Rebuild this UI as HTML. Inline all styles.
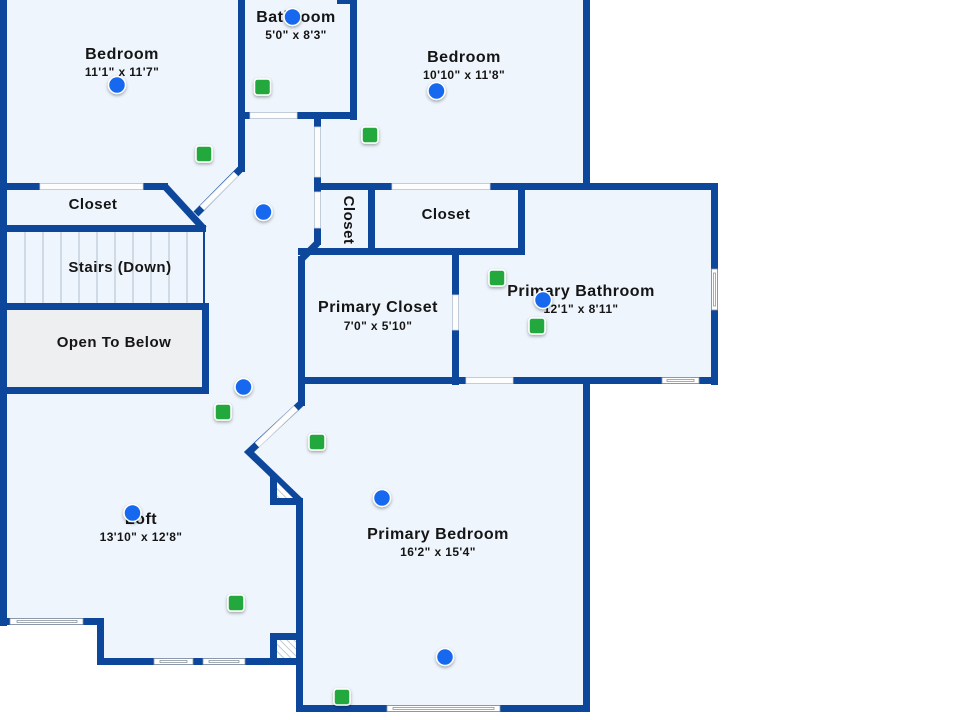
<!DOCTYPE html>
<html><head><meta charset="utf-8"><style>
html,body{margin:0;padding:0;background:#fff;}
svg{display:block;}
text{font-family:"Liberation Sans",sans-serif;font-weight:bold;fill:#151515;text-anchor:middle;}
.t{font-size:16px;letter-spacing:0.5px;}
.d{font-size:12px;letter-spacing:0.4px;}
</style></head><body>
<svg width="960" height="720" viewBox="0 0 960 720" xmlns="http://www.w3.org/2000/svg">
<defs>
<pattern id="h" width="5" height="5" patternUnits="userSpaceOnUse" patternTransform="rotate(-45)">
<rect width="5" height="5" fill="#fff"/><line x1="0" y1="0" x2="0" y2="5" stroke="#9aa6b4" stroke-width="1.2"/>
</pattern>
<filter id="sh" x="-50%" y="-50%" width="200%" height="200%"><feDropShadow dx="0" dy="1.5" stdDeviation="1.5" flood-color="#000" flood-opacity="0.35"/></filter>
</defs>
<rect width="960" height="720" fill="#fff"/>
<!-- floor -->
<polygon points="0,0 590,0 590,183 718,183 718,384 590,384 590,712 296,712 296,665 97,665 97,625 0,625" fill="#eef5fc"/>
<!-- open to below -->
<rect x="7" y="310" width="195" height="77" fill="#eeeff1"/>
<!-- stairs -->
<g stroke="#b3bfcc" stroke-width="1">
<line x1="25" y1="232" x2="25" y2="303"/><line x1="43" y1="232" x2="43" y2="303"/><line x1="61" y1="232" x2="61" y2="303"/><line x1="79" y1="232" x2="79" y2="303"/><line x1="97" y1="232" x2="97" y2="303"/><line x1="115" y1="232" x2="115" y2="303"/><line x1="133" y1="232" x2="133" y2="303"/><line x1="151" y1="232" x2="151" y2="303"/><line x1="169" y1="232" x2="169" y2="303"/><line x1="187" y1="232" x2="187" y2="303"/>
</g>
<line x1="204" y1="230" x2="204" y2="304" stroke="#0d479c" stroke-width="2"/>
<!-- walls -->
<g fill="#0d479c">
<rect x="0" y="0" width="7" height="626"/>
<rect x="238" y="0" width="7" height="172"/>
<rect x="0" y="183" width="168" height="7"/>
<rect x="0" y="225" width="206" height="7"/>
<rect x="0" y="303" width="209" height="7"/>
<rect x="202" y="303" width="7" height="91"/>
<rect x="0" y="387" width="209" height="7"/>
<rect x="350" y="0" width="7" height="120"/>
<rect x="337" y="0" width="20" height="4"/>
<rect x="238" y="112" width="119" height="7"/>
<rect x="314" y="118" width="7" height="127"/>
<rect x="298" y="256" width="7" height="150"/>
<rect x="296" y="498" width="7" height="214"/>
<rect x="583" y="0" width="7" height="190"/>
<rect x="314" y="183" width="404" height="7"/>
<rect x="368" y="183" width="7" height="72"/>
<rect x="518" y="183" width="7" height="72"/>
<rect x="298" y="248" width="227" height="7"/>
<rect x="711" y="183" width="7" height="202"/>
<rect x="452" y="248" width="7" height="137"/>
<rect x="298" y="377" width="420" height="7"/>
<rect x="583" y="377" width="7" height="335"/>
<rect x="296" y="705" width="294" height="7"/>
<rect x="0" y="618" width="104" height="7"/>
<rect x="97" y="618" width="7" height="47"/>
<rect x="97" y="658" width="206" height="7"/>
<rect x="270" y="477" width="7" height="28"/>
<rect x="270" y="498" width="33" height="7"/>
<rect x="270" y="633" width="30" height="7"/>
<rect x="270" y="633" width="7" height="30"/>
</g>
<g stroke="#0d479c" stroke-width="7" fill="none" stroke-linejoin="miter">
<path d="M165,186.5 L204,229"/>
<path d="M241.5,168 L196,214"/>
<path d="M317.5,243 L301.5,259"/>
<path d="M301.5,403 L249,452 L300,501"/>
</g>
<!-- hatches -->
<polygon points="277,482 277,498 293,498" fill="url(#h)"/>
<rect x="277" y="640" width="19" height="18" fill="url(#h)"/>
<!-- doors -->
<g fill="#fdfdfd" stroke="#d3d8de" stroke-width="0.8">
<rect x="40" y="183.5" width="103" height="6"/>
<rect x="250" y="112.5" width="47" height="6"/>
<rect x="314.5" y="127" width="6" height="50"/>
<rect x="314.5" y="192" width="6" height="36"/>
<rect x="392" y="183.5" width="98" height="6"/>
<rect x="452.5" y="295" width="6" height="35"/>
<rect x="466" y="377.5" width="47" height="6"/>
</g>
<g stroke-linecap="butt">
<line x1="236" y1="174" x2="202" y2="208" stroke="#d3d8de" stroke-width="6.5"/>
<line x1="236" y1="174" x2="202" y2="208" stroke="#fdfdfd" stroke-width="5"/>
<line x1="296" y1="408" x2="257" y2="445" stroke="#d3d8de" stroke-width="6.5"/>
<line x1="296" y1="408" x2="257" y2="445" stroke="#fdfdfd" stroke-width="5"/>
</g>
<!-- windows -->
<g fill="#fff" stroke="#8d96a0" stroke-width="0.8">
<rect x="711.5" y="269" width="6" height="41"/>
<rect x="662" y="377.5" width="37" height="6"/>
<rect x="387" y="705.5" width="113" height="6"/>
<rect x="10" y="618.5" width="73" height="6"/>
<rect x="154" y="658.5" width="39" height="6"/>
<rect x="203" y="658.5" width="42" height="6"/>
</g>
<g stroke="#8d96a0" stroke-width="0.8" fill="none">
<rect x="713.5" y="273" width="2" height="33"/>
<rect x="667" y="379.5" width="27" height="2"/>
<rect x="393" y="707.5" width="101" height="2"/>
<rect x="17" y="620.5" width="60" height="2"/>
<rect x="160" y="660.5" width="27" height="2"/>
<rect x="209" y="660.5" width="30" height="2"/>
</g>
<!-- labels -->
<text class="t" x="122" y="59">Bedroom</text>
<text class="d" x="122" y="76">11'1" x 11'7"</text>
<text class="t" x="296" y="22">Bathroom</text>
<text class="d" x="296" y="39">5'0" x 8'3"</text>
<text class="t" x="464" y="62">Bedroom</text>
<text class="d" x="464" y="79">10'10" x 11'8"</text>
<text class="t" x="93" y="209" style="font-size:15px">Closet</text>
<text class="t" x="0" y="0" style="font-size:15px" transform="translate(344,220) rotate(90)">Closet</text>
<text class="t" x="446" y="219" style="font-size:15px">Closet</text>
<text class="t" x="120" y="272" style="font-size:15px">Stairs (Down)</text>
<text class="t" x="114" y="347" style="font-size:15px">Open To Below</text>
<text class="t" x="378" y="312">Primary Closet</text>
<text class="d" x="378" y="330">7'0" x 5'10"</text>
<text class="t" x="581" y="296">Primary Bathroom</text>
<text class="d" x="581" y="313">12'1" x 8'11"</text>
<text class="t" x="141" y="524">Loft</text>
<text class="d" x="141" y="541">13'10" x 12'8"</text>
<text class="t" x="438" y="539">Primary Bedroom</text>
<text class="d" x="438" y="556">16'2" x 15'4"</text>
<!-- markers -->
<g filter="url(#sh)">
<g fill="#23a83c" stroke="#fff" stroke-width="1.5">
<rect x="254.5" y="79" width="16" height="16" rx="3"/>
<rect x="196" y="146" width="16" height="16" rx="3"/>
<rect x="362" y="127" width="16" height="16" rx="3"/>
<rect x="489" y="270" width="16" height="16" rx="3"/>
<rect x="529" y="318" width="16" height="16" rx="3"/>
<rect x="215" y="404" width="16" height="16" rx="3"/>
<rect x="309" y="434" width="16" height="16" rx="3"/>
<rect x="334" y="689" width="16" height="16" rx="3"/>
<rect x="228" y="595" width="16" height="16" rx="3"/>
</g>
<g fill="#1768ef" stroke="#fff" stroke-width="1.5">
<circle cx="117" cy="85" r="8.5"/>
<circle cx="292.5" cy="17" r="8.5"/>
<circle cx="436.5" cy="91" r="8.5"/>
<circle cx="263.5" cy="212" r="8.5"/>
<circle cx="543" cy="300" r="8.5"/>
<circle cx="243.5" cy="387" r="8.5"/>
<circle cx="132.5" cy="513" r="8.5"/>
<circle cx="382" cy="498" r="8.5"/>
<circle cx="445" cy="657" r="8.5"/>
</g>
</g>
</svg>
</body></html>
